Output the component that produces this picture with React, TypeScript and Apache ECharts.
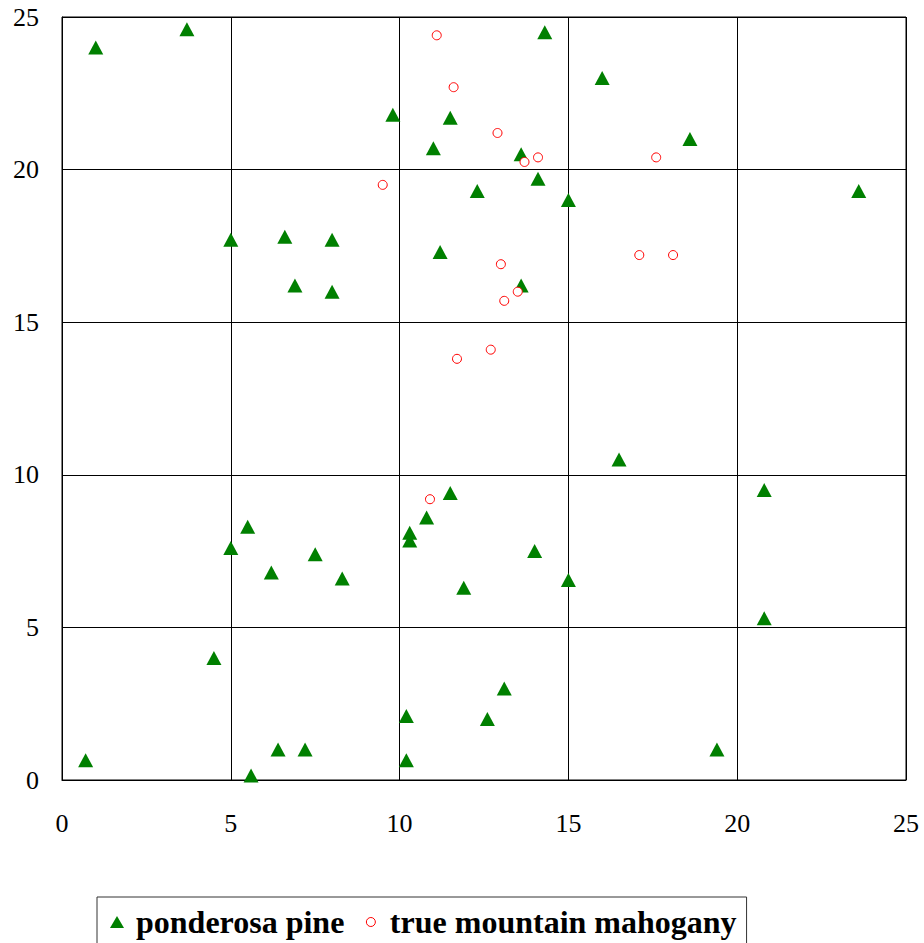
import React, { useEffect, useRef } from "react";
import * as echarts from "echarts";

const pinePoints: [number, number][] = [
  [1.0, 24.0], [3.7, 24.6], [14.3, 24.5], [16.0, 23.0], [9.8, 21.8],
  [11.5, 21.7], [18.6, 21.0], [11.0, 20.7], [13.6, 20.5], [14.1, 19.7],
  [12.3, 19.3], [23.6, 19.3], [15.0, 19.0], [5.0, 17.7], [6.6, 17.8],
  [8.0, 17.7], [11.2, 17.3], [6.9, 16.2], [13.6, 16.2], [8.0, 16.0],
  [16.5, 10.5], [20.8, 9.5], [11.5, 9.4], [10.8, 8.6], [5.5, 8.3],
  [10.3, 8.1], [10.3, 7.85], [5.0, 7.6], [14.0, 7.5], [7.5, 7.4],
  [6.2, 6.8], [8.3, 6.6], [15.0, 6.55], [11.9, 6.3], [20.8, 5.3],
  [4.5, 4.0], [13.1, 3.0], [10.2, 2.1], [12.6, 2.0], [6.4, 1.0],
  [7.2, 1.0], [19.4, 1.0], [0.7, 0.65], [10.2, 0.65], [5.6, 0.15],
];

const mahoganyPoints: [number, number][] = [
  [11.1, 24.4], [11.6, 22.7], [12.9, 21.2], [14.1, 20.4], [13.7, 20.25],
  [17.6, 20.4], [9.5, 19.5], [17.1, 17.2], [18.1, 17.2], [13.0, 16.9],
  [13.5, 16.0], [13.1, 15.7], [12.7, 14.1], [11.7, 13.8], [10.9, 9.2],
];

const seriesNames = ["ponderosa pine", "true mountain mahogany"];
const axisMin = 0;
const axisMax = 25;
const axisInterval = 5;

const FONT = "Liberation Serif";

const axisLabelStyle = {
  color: "#000",
  fontSize: 26,
  fontFamily: FONT,
  fontWeight: "normal",
};

export default function App() {
  const ref = useRef<HTMLDivElement>(null);

  useEffect(() => {
    document.body.style.margin = "0";
    if (!ref.current) return;
    const chart = echarts.init(ref.current, undefined, { renderer: "svg" });
    chart.setOption({
      animation: false,
      backgroundColor: "#fff",
      textStyle: { fontFamily: FONT },
      grid: {
        left: 62,
        top: 17,
        right: 18,
        bottom: 163,
        show: true,
        borderColor: "#000",
        borderWidth: 1,
        backgroundColor: "transparent",
      },
      xAxis: {
        type: "value",
        min: axisMin,
        max: axisMax,
        interval: axisInterval,
        axisLine: { show: true, lineStyle: { color: "#000", width: 1 } },
        axisTick: { show: false },
        splitLine: { show: true, lineStyle: { color: "#000", width: 1 } },
        axisLabel: { ...axisLabelStyle, margin: 30 },
      },
      yAxis: {
        type: "value",
        min: axisMin,
        max: axisMax,
        interval: axisInterval,
        axisLine: { show: true, lineStyle: { color: "#000", width: 1 } },
        axisTick: { show: false },
        splitLine: { show: true, lineStyle: { color: "#000", width: 1 } },
        axisLabel: { ...axisLabelStyle, margin: 23 },
      },
      legend: {
        left: 97,
        top: 897,
        orient: "horizontal",
        borderColor: "#333",
        borderWidth: 1,
        padding: [9, 10, 12, 13],
        itemGap: 19,
        itemWidth: 14,
        itemHeight: 12,
        textStyle: {
          fontFamily: FONT,
          fontSize: 32,
          fontWeight: "bold",
          color: "#000",
          lineHeight: 32,
          padding: [0, 0, 0, 7],
        },
        data: [
          {
            name: seriesNames[0],
            icon: "path://M7,0 L14,12 L0,12 Z",
            itemStyle: { color: "#008000", borderWidth: 0 },
          },
          {
            name: seriesNames[1],
            icon: "path://M0,0 M14,12 M11.5,6 A4.5,4.5 0 1,1 2.5,6 A4.5,4.5 0 1,1 11.5,6 Z",
            itemStyle: { color: "#fff", borderColor: "#ff0000", borderWidth: 1 },
          },
        ],
      },
      series: [
        {
          name: seriesNames[0],
          type: "scatter",
          symbol: "triangle",
          symbolSize: [15, 14],
          itemStyle: { color: "#008000", opacity: 1 },
          data: pinePoints,
          z: 2,
        },
        {
          name: seriesNames[1],
          type: "scatter",
          symbol: "circle",
          symbolSize: 9,
          itemStyle: { color: "#fff", borderColor: "#ff0000", borderWidth: 1, opacity: 1 },
          data: mahoganyPoints,
          z: 3,
        },
      ],
    });
    return () => chart.dispose();
  }, []);

  return (
    <div
      ref={ref}
      style={{ width: 924, height: 943, position: "absolute", left: 0, top: 0 }}
    />
  );
}
